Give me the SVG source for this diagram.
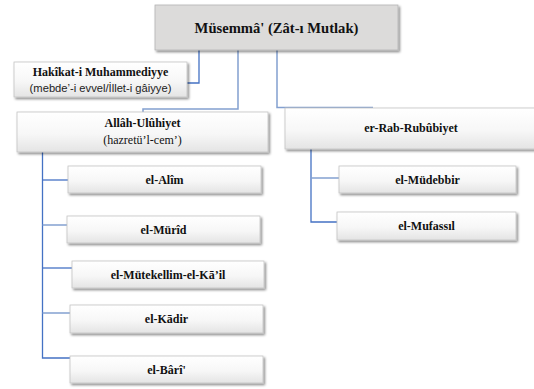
<svg xmlns="http://www.w3.org/2000/svg" width="534" height="389" viewBox="0 0 534 389">
<style>
.box{fill:url(#g);stroke:#c4c4c4;stroke-width:0.8;filter:url(#sh)}
.top{fill:#dcdbda;stroke:#b5b5b5;stroke-width:0.8;filter:url(#sh)}
.t{font-family:"Liberation Serif","Times New Roman",serif;font-weight:bold;font-size:12px;fill:#111;text-anchor:middle}
.r{font-family:"Liberation Serif","Times New Roman",serif;font-size:12px;fill:#111;text-anchor:middle}
.s{font-family:"Liberation Sans",Arial,sans-serif;font-size:11.2px;fill:#222;text-anchor:middle}
.c{fill:none;stroke:#4472c4;stroke-width:1.3}
.cl{fill:none;stroke:#83a0d0;stroke-width:1.5}
</style>
<defs>
<linearGradient id="g" x1="0" y1="0" x2="0" y2="1">
<stop offset="0" stop-color="#ffffff"/>
<stop offset="0.55" stop-color="#f7f7f7"/>
<stop offset="1" stop-color="#e4e4e4"/>
</linearGradient>
<filter id="sh" x="-10%" y="-20%" width="130%" height="160%">
<feDropShadow dx="1.6" dy="1.8" stdDeviation="0.9" flood-color="#000" flood-opacity="0.45"/>
</filter>
</defs>
<rect width="534" height="389" fill="#fff"/>
<g id="connectors">
<path class="c" d="M199,50 V83 H187"/>
<path class="cl" d="M238,50 V109 H143 V112"/>
<path class="cl" d="M277,50 V107.5 H373"/>
<path class="c" d="M42.5,152 V358 H70"/>
<path class="c" d="M42.5,180 H68"/>
<path class="cl" d="M42.5,225 H67"/>
<path class="c" d="M42.5,268 H72"/>
<path class="cl" d="M42.5,313 H70"/>
<path class="c" d="M311,149 V222 H337"/>
<path class="cl" d="M311,178 H339"/>
</g>
<g id="n-musemma">
<rect class="top" x="155" y="5" width="243" height="45"/>
<text class="t" x="276.5" y="33" style="font-size:14.6px">Müsemmâ' (Zât-ı Mutlak)</text>
</g>
<g id="n-hakikat">
<rect class="box" x="14" y="62" width="173" height="35"/>
<text class="t" x="100.5" y="76">Hakîkat-i Muhammediyye</text>
<text class="s" x="100.5" y="92">(mebde’-i evvel/İllet-i gâiyye)</text>
</g>
<g id="n-allah">
<rect class="box" x="17" y="112" width="251" height="40"/>
<text class="t" x="142.5" y="127">Allâh-Ulûhiyet</text>
<text class="r" x="142.5" y="144">(hazretü’l-cem’)</text>
</g>
<g id="n-rab">
<rect class="box" x="285" y="108" width="253" height="41"/>
<text class="t" x="411" y="132">er-Rab-Rubûbiyet</text>
</g>
<g id="n-alim">
<rect class="box" x="68" y="166" width="193" height="27"/>
<text class="t" x="164.5" y="184">el-Alîm</text>
</g>
<g id="n-murid">
<rect class="box" x="67" y="216" width="193" height="27"/>
<text class="t" x="163.5" y="234">el-Mürîd</text>
</g>
<g id="n-mutekellim">
<rect class="box" x="72" y="261" width="192" height="27"/>
<text class="t" x="168" y="279">el-Mütekellim-el-Kā’il</text>
</g>
<g id="n-kadir">
<rect class="box" x="70" y="305" width="193" height="28"/>
<text class="t" x="166.5" y="323">el-Kādir</text>
</g>
<g id="n-bari">
<rect class="box" x="70" y="356" width="193" height="27"/>
<text class="t" x="166.5" y="374">el-Bârî'</text>
</g>
<g id="n-mudebbir">
<rect class="box" x="339" y="166" width="177" height="27"/>
<text class="t" x="427.5" y="184">el-Müdebbir</text>
</g>
<g id="n-mufassil">
<rect class="box" x="337" y="212" width="179" height="28"/>
<text class="t" x="426.5" y="230">el-Mufassıl</text>
</g>
</svg>
